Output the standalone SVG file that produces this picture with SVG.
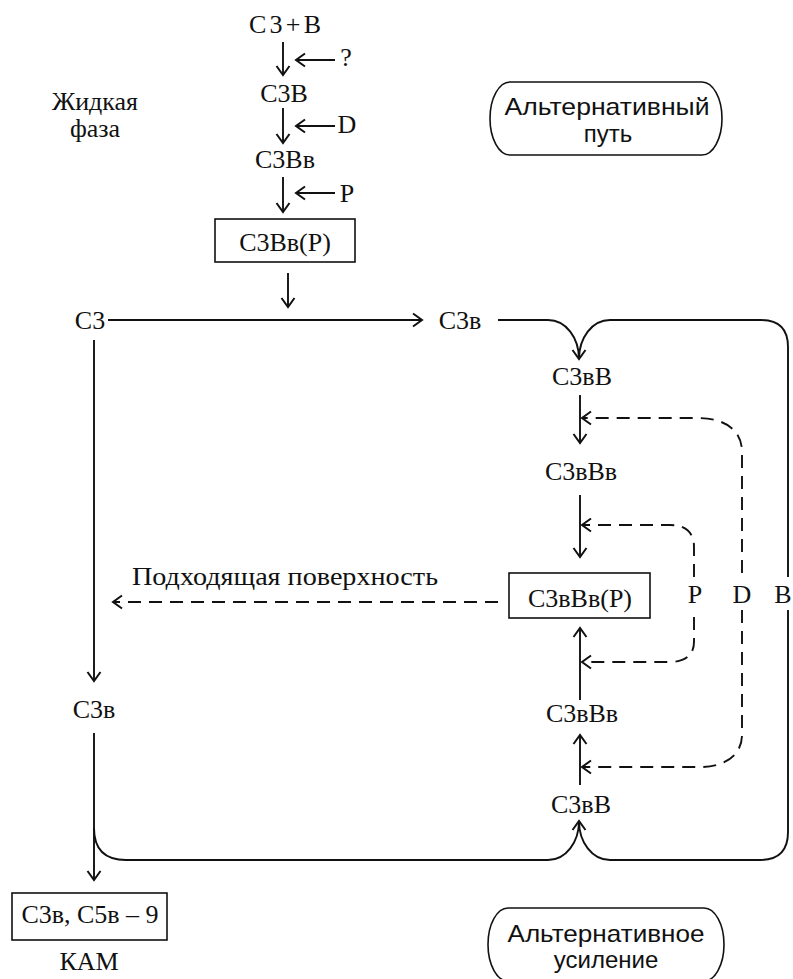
<svg xmlns="http://www.w3.org/2000/svg" width="793" height="979" viewBox="0 0 793 979">
<style>
text{font-family:"Liberation Serif","Times New Roman","DejaVu Serif",serif;font-size:26px;fill:#111;text-anchor:middle}
.sans{font-family:"Liberation Sans",Arial,sans-serif;font-size:24px}
.st{text-anchor:start}
.ln{fill:none;stroke:#111;stroke-width:1.9}
.ds{fill:none;stroke:#111;stroke-width:1.9;stroke-dasharray:13 8}
.bx{fill:#fff;stroke:#111;stroke-width:1.6}
</style>
<defs>
<marker id="ah" viewBox="-11 -8 13 16" markerWidth="13" markerHeight="16" refX="0" refY="0" orient="auto" markerUnits="userSpaceOnUse">
<path d="M-9,-6.5 L0,0 L-9,6.5" fill="none" stroke="#111" stroke-width="2"/>
</marker>
</defs>
<rect width="793" height="979" fill="#fff"/>
<g id="connectors">
<path class="ln" d="M283,42 V75" marker-end="url(#ah)"/>
<path class="ln" d="M283,108 V143" marker-end="url(#ah)"/>
<path class="ln" d="M283,177 V212" marker-end="url(#ah)"/>
<path class="ln" d="M335,60 H296" marker-end="url(#ah)"/>
<path class="ln" d="M335,126 H296" marker-end="url(#ah)"/>
<path class="ln" d="M335,193 H296" marker-end="url(#ah)"/>
<path class="ln" d="M288,273 V307" marker-end="url(#ah)"/>
<path class="ln" d="M108,320 H422" marker-end="url(#ah)"/>
<path class="ln" d="M94,340 V681" marker-end="url(#ah)"/>
<path class="ln" d="M94,733 V880" marker-end="url(#ah)"/>
<path class="ln" d="M498,320 H548 C566,320 579,338 579,359" marker-end="url(#ah)"/>
<path class="ln" d="M579,359 C579,338 592,320 610,320 H761 Q788,320 788,347 V577"/>
<path class="ln" d="M788,610 V832 Q788,860 760,860 H610 C592,860 579,842 579,821"/>
<path class="ln" d="M94,828 Q94,860 126,860 H548 C566,860 579,842 579,821" marker-end="url(#ah)"/>
<path class="ln" d="M580,395 V443" marker-end="url(#ah)"/>
<path class="ln" d="M580,495 V557" marker-end="url(#ah)"/>
<path class="ln" d="M580,700 V628" marker-end="url(#ah)"/>
<path class="ln" d="M580,785 V735" marker-end="url(#ah)"/>
<path class="ds" d="M742,573 V452 C742,430 725,418 697,418 H582" marker-end="url(#ah)"/>
<path class="ds" d="M742,610 V735 C742,755 725,767 700,767 H582" marker-end="url(#ah)"/>
<path class="ds" d="M694,577 V547 C694,532 685,525 670,525 H582" marker-end="url(#ah)"/>
<path class="ds" d="M694,617 V642 C694,655 685,662 670,662 H582" marker-end="url(#ah)"/>
<path class="ds" d="M498,602 H113" marker-end="url(#ah)"/>
</g>
<g id="label-liquid"><text x="95" y="110">Жидкая</text><text x="95" y="137">фаза</text></g>
<g id="n-c3plusb"><text x="285" y="33" textLength="72" lengthAdjust="spacing">C3+B</text></g>
<g id="l-q"><text x="346" y="66">?</text></g>
<g id="n-c3b"><text x="284" y="102">C3B</text></g>
<g id="l-d1"><text x="347" y="133">D</text></g>
<g id="n-c3bb"><text x="285" y="168">C3Bв</text></g>
<g id="l-p1"><text x="347" y="202">P</text></g>
<g id="n-c3bbp"><rect class="bx" x="215" y="219" width="140" height="43"/><text x="285" y="251">C3Bв(P)</text></g>
<g id="n-alt-path"><path class="bx" d="M510,82 H702 A20,36.5 0 0 1 702,155 H510 A20,36.5 0 0 1 510,82 Z"/><text class="sans" x="607" y="115" textLength="205" lengthAdjust="spacingAndGlyphs">Альтернативный</text><text class="sans" x="608" y="142">путь</text></g>
<g id="n-c3"><text x="90" y="329">C3</text></g>
<g id="n-c3b-top"><text x="460" y="329">C3в</text></g>
<g id="n-c3bB-1"><text x="582" y="385">C3вB</text></g>
<g id="n-c3bBb-1"><text x="581" y="480">C3вBв</text></g>
<g id="n-c3bBbP"><rect class="bx" x="509" y="573" width="141" height="45"/><text x="580" y="607">C3вBв(P)</text></g>
<g id="l-surface"><text class="st" x="132" y="585" textLength="306" lengthAdjust="spacingAndGlyphs">Подходящая поверхность</text></g>
<g id="l-p2"><text x="695" y="603">P</text></g>
<g id="l-d2"><text x="742" y="603">D</text></g>
<g id="l-b"><text x="783" y="603">B</text></g>
<g id="n-c3b-left"><text x="94" y="718">C3в</text></g>
<g id="n-c3bBb-2"><text x="582" y="722">C3вBв</text></g>
<g id="n-c3bB-2"><text x="581" y="813">C3вB</text></g>
<g id="n-mac"><rect class="bx" x="12" y="893" width="155" height="47"/><text x="90" y="923">C3в, C5в – 9</text><text x="89" y="970">КАМ</text></g>
<g id="n-alt-amp"><path class="bx" d="M508,908 H704 A20,36.5 0 0 1 704,981 H508 A20,36.5 0 0 1 508,908 Z"/><text class="sans" x="606" y="942" textLength="197" lengthAdjust="spacingAndGlyphs">Альтернативное</text><text class="sans" x="606" y="968">усиление</text></g>
</svg>
